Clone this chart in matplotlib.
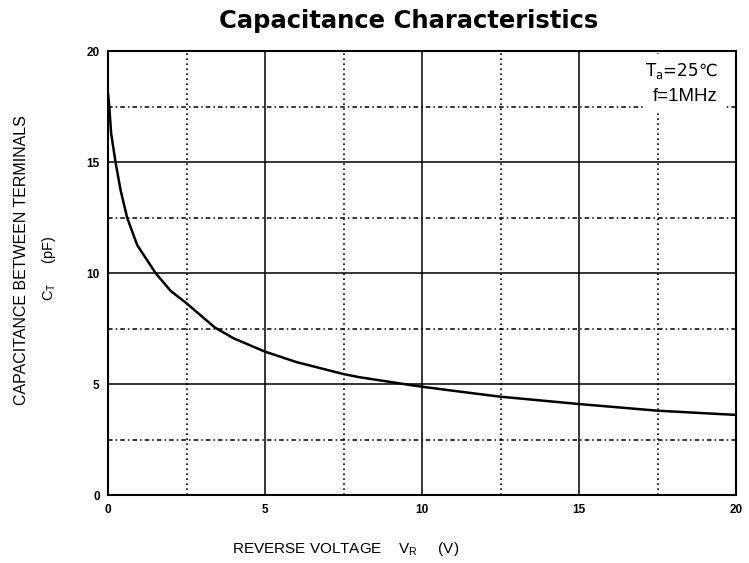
import numpy as np
import matplotlib.pyplot as plt

plt.rcParams['font.family'] = ['Liberation Sans', 'DejaVu Sans']

# values
vr = [0, 0.04, 0.1, 0.24, 0.40, 0.61, 0.93, 1.52, 2.0, 2.5, 3.06, 3.41,
      4.0, 5.0, 6.0, 7.5, 8.0, 9.7, 10.0, 11.2, 12.5, 15.0, 17.5, 20.0]
ct = [18.1, 17.5, 16.3, 15.0, 13.75, 12.5, 11.27, 10.0, 9.2, 8.65, 7.97, 7.55,
      7.07, 6.47, 6.0, 5.46, 5.32, 4.95, 4.89, 4.67, 4.44, 4.11, 3.81, 3.62]
xticks = [0, 5, 10, 15, 20]
yticks = [0, 5, 10, 15, 20]
minor = [2.5, 7.5, 12.5, 17.5]

fig = plt.figure(figsize=(7.49, 5.63), dpi=100)
ax = fig.add_axes([0.1442, 0.1203, 0.8385, 0.7886])

ax.plot(vr, ct, color='black', lw=1.8, zorder=3)
ax.set_xlim(0, 20)
ax.set_ylim(0, 20)
ax.set_xticks(xticks)
ax.set_yticks(yticks)

ax.grid(which='major', color='black', lw=1.1, ls='-')
for x in minor:
    ax.axvline(x, color='black', lw=1.2, ls=(0, (1, 2)), zorder=1)
for y in minor:
    ax.axhline(y, color='black', lw=1.1, ls=(0, (3, 2, 1, 2)), zorder=1)

ax.tick_params(which='both', length=0, labelsize=8.5, pad=6)
for lab in ax.get_xticklabels() + ax.get_yticklabels():
    lab.set_fontweight('bold')
for s in ax.spines.values():
    s.set_linewidth(1.5)

fig.text(0.545, 0.962, 'Capacitance Characteristics', ha='center', va='center',
         fontsize=17.5, fontweight='bold', family='DejaVu Sans')
fig.text(0.029, 0.538, 'CAPACITANCE BETWEEN TERMINALS', rotation=90,
         ha='center', va='center', fontsize=11.5)
fig.text(0.066, 0.524, r'C$_\mathregular{T}$     (pF)', rotation=90,
         ha='center', va='center', fontsize=10.5)
fig.text(0.462, 0.025, r'REVERSE VOLTAGE    V$_\mathregular{R}$     (V)',
         ha='center', va='center', fontsize=11)

# white patch behind the conditions text, grid lines stop there
box = dict(facecolor='white', edgecolor='none', pad=5)
ax.text(19.4, 17.95, 'f=1MHz', ha='right', va='center', fontsize=13.5,
        bbox=box, zorder=4)
ax.text(19.4, 19.1, r'T$_\mathregular{a}$=25℃', ha='right', va='center',
        fontsize=12, family='DejaVu Sans', bbox=box, zorder=5)

fig.savefig('out.png', facecolor='white')
